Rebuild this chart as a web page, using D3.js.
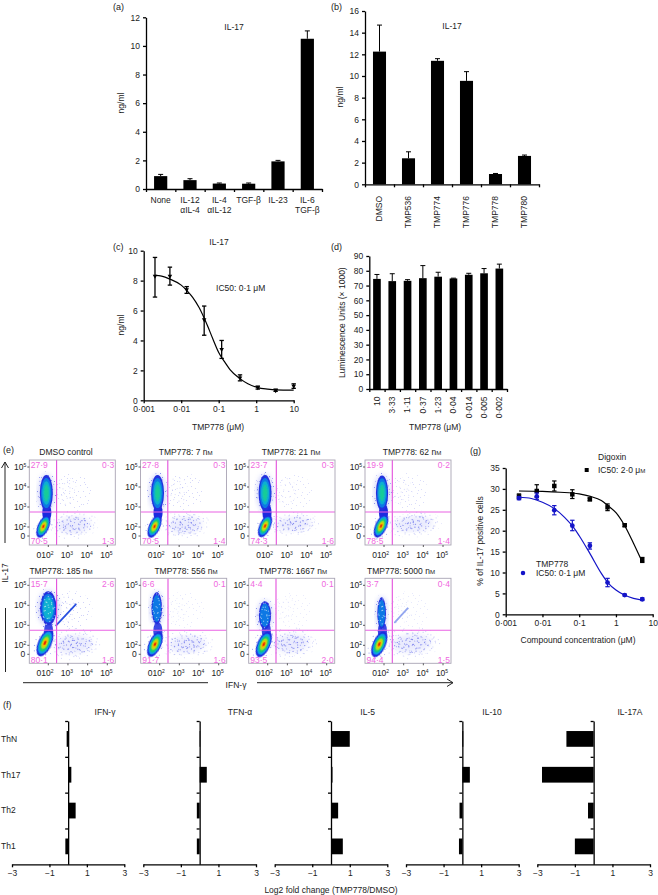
<!DOCTYPE html>
<html><head><meta charset="utf-8">
<script src="https://cdn.jsdelivr.net/npm/d3@7/dist/d3.min.js"></script>
<style>html,body{margin:0;padding:0;background:#fff}svg{display:block}text{font-family:"Liberation Sans",Arial,sans-serif;fill:#222}</style>
</head><body><svg id="c" width="658" height="895"></svg>
<script>
// (a)
const aCategories=[["None"],["IL-12","αIL-4"],["IL-4","αIL-12"],["TGF-β"],["IL-23"],["IL-6","TGF-β"]];
const aValues=[0.9,0.62,0.38,0.37,1.93,10.5];
const aTops=[1.02,0.72,0.42,0.42,2.0,11.05];
const aTicks=[0,2,4,6,8,10,12];
// (b)
const bCategories=["DMSO","TMP536","TMP774","TMP776","TMP778","TMP780"];
const bValues=[12.25,2.4,11.4,9.55,0.95,2.62];
const bTops=[14.7,3.0,11.6,10.4,1.0,2.7];
const bTicks=[0,2,4,6,8,10,12,14,16];
// (c)
const cDoses=[0.002,0.005,0.014,0.041,0.12,0.37,1.1,3.3,10];
const cValues=[8.3,8.3,7.4,5.4,3.4,1.5,0.85,0.65,0.95];
const cLow=[6.9,7.7,7.15,4.35,2.8,1.3,0.75,0.6,0.8];
const cHigh=[9.55,8.9,7.6,6.3,4.0,1.7,0.95,0.75,1.1];
const cCurveX=[0.002,0.003,0.005,0.01,0.014,0.02,0.03,0.05,0.07,0.1,0.15,0.2,0.37,0.6,1.1,2,3.3,10];
const cCurveY=[8.35,8.3,8.1,7.7,7.35,6.9,6.2,5.0,4.1,3.2,2.5,2.05,1.45,1.1,0.85,0.75,0.7,0.68];
const cTicks=[0,2,4,6,8,10];
const logTicks=[0.001,0.01,0.1,1,10];
const logLabels=["0·001","0·01","0·1","1","10"];
// (d)
const dCategories=["10","3·33","1·11","0·37","1·23","0·04","0·014","0·005","0·002"];
const dValues=[74.5,73,73.2,75,76,74.8,77.3,78.3,81.5];
const dTops=[77.5,78,74,83.5,79,75,78.3,81.5,84.5];
const dTicks=[0,10,20,30,40,50,60,70,80,90];
// (e)
const flowTitles=["DMSO control","TMP778: 7 n|M","TMP778: 21 n|M","TMP778: 62 n|M","TMP778: 185 n|M","TMP778: 556 n|M","TMP778: 1667 n|M","TMP778: 5000 n|M"];
const flowTL=["27·9","27·8","23·7","19·9","15·7","6·6","4·4","3·7"];
const flowTR=["0·3","0·3","0·3","0·2","2·6","0·1","0·1","0·4"];
const flowBL=["70·5","70·5","74·3","78·5","80·1","91·7","93·5","94·4"];
const flowBR=["1·3","1·4","1·6","1·4","1·6","1·6","2·0","1·5"];
const upperCx=[1.9,1.9,1.85,1.9,2.0,1.85,1.86,1.88];
const upperCy=[3.7,3.7,3.7,3.7,3.85,3.85,3.5,3.6];
const upperRx=[0.33,0.33,0.33,0.31,0.42,0.27,0.31,0.22];
const upperRy=[0.9,0.9,0.9,0.88,0.85,0.8,0.7,0.8];
const upperHeat=[5,5,5,5,3,2,2,2];
const lowerCx=[1.75,1.75,1.85,1.85,1.83,1.76,1.8,1.76];
const lowerCy=[2.03,2.03,2.05,2.05,2.12,2.05,2.05,2.05];
const lowerSize=[1,1,1,1.03,1.2,1.12,1.15,1.15];
const cloudCx=[3.3,3.3,3.3,3.5,3.3,3.4,3.2,3.4];
const cloudCy=[2.1,2.1,2.15,2.15,2.05,2.05,2.1,2.1];
const cloudRx=[1.05,1.05,1.1,1.2,1.15,1.15,1.1,1.25];
const cloudRy=[0.55,0.55,0.45,0.5,0.6,0.55,0.6,0.6];
const sparseDensity=[0.8,0.8,0.65,0.7,0.9,0.45,0.4,0.45];
const streakFrom=[null,null,null,null,[2.4,3.0],null,null,[2.55,3.15]];
const streakTo=[null,null,null,null,[3.4,4.05],null,null,[3.2,3.85]];
const streakAlpha=[0,0,0,0,1,0,0,0.5];
const speckleTile=[[2,1],[9,3],[13,0],[21,2],[27,5],[34,1],[39,4],[5,6],[11,8],[18,6],[24,9],[31,7],[37,10],[1,10],[7,12],[15,11],[20,13],[28,12],[35,14],[3,15],[10,16],[17,17],[25,15],[32,18],[39,16],[6,19],[13,21],[22,19],[29,22],[36,20],[1,23],[9,24],[16,25],[24,24],[33,26],[40,23],[4,27],[12,29],[19,28],[27,30],[37,29],[7,31],[15,33],[23,32],[31,34],[39,33],[2,34],[10,36],[20,35],[28,36],[35,36],[3,3],[16,3],[26,1],[8,9],[22,11],[33,11],[14,14],[29,16],[5,22],[19,22],[38,25],[11,32],[26,34]];
// (f)
const fRows=["ThN","Th17","Th2","Th1"];
const fTitles=["IFN-γ","TFN-α","IL-5","IL-10","IL-17A"];
const fValues=[[-0.08,0.17,0.4,-0.15],[0.03,0.38,-0.15,-0.15],[1.0,0.08,0.38,0.63],[0.05,0.4,-0.15,-0.18],[-1.45,-2.75,-0.3,-1.0]];
const fTicks=[-3,-1,1,3];
// (g)
const gDoses=[0.0023,0.007,0.021,0.065,0.195,0.59,1.73,5.2];
const digValues=[28.2,29.5,30.7,28.7,27.5,25.6,21.3,13];
const digLow=[27.6,28,29.5,27.7,27.2,24.8,21,12.4];
const digHigh=[28.8,31,31.9,29.8,27.8,26.4,21.6,13.6];
const tmpValues=[27.8,28.2,24.9,21.2,16.4,7.6,4.6,3.6];
const tmpLow=[27.4,27.5,23.8,20,15.6,6.6,4.4,3.3];
const tmpHigh=[28.2,29,26,22.5,17.1,8.6,4.8,3.9];
const digCurveX=[0.0023,0.01,0.03,0.1,0.2,0.4,0.6,1,1.7,3,5.2];
const digCurveY=[29.5,29.4,29.2,28.8,28.2,27.2,26,24.3,21.3,17,12.5];
const tmpCurveX=[0.0023,0.005,0.01,0.02,0.04,0.07,0.1,0.2,0.4,0.6,1,1.7,3,5.2];
const tmpCurveY=[28,27.7,26.8,25.4,23.2,20.8,18.8,14.4,9.8,7.6,5.8,4.6,3.8,3.4];
const gTicks=[0,5,10,15,20,25,30,35];

const svg=d3.select("#c");
const FS=8.5;
function label(t,x,y,o={}){
  const e=(o.g||svg).append("text").attr("x",x).attr("y",y).attr("dy","0.34em")
    .attr("font-size",o.fs||FS).attr("text-anchor",o.a||"middle").text(t);
  if(o.rot!=null)e.attr("transform",`rotate(${o.rot} ${x} ${y})`);
  if(o.fill)e.style("fill",o.fill);
  return e;
}
function capLabel(t,x,y,o={}){
  const [head,tail]=t.split("|");
  const e=label(head,x,y,o);
  if(tail!=null)e.append("tspan").attr("font-size",(o.fs||FS)*0.72).text(tail);
  return e;
}
function styleAxis(g,w=1.3){
  g.selectAll(".domain").attr("stroke","#000").attr("stroke-width",w);
  g.selectAll(".tick line").attr("stroke","#000").attr("stroke-width",w);
  g.selectAll(".tick text").attr("font-size",FS).style("fill","#222").attr("font-family",'"Liberation Sans",Arial,sans-serif');
}
function yAxis(scale,x,ticks,fmt){
  const g=svg.append("g").attr("transform",`translate(${x},0)`)
    .call(d3.axisLeft(scale).tickValues(ticks).tickSize(3).tickSizeOuter(0).tickFormat(fmt||(d=>d)));
  styleAxis(g);return g;
}
function barPanel(opt){
  const {cats,vals,tops,ticks,x0,x1,y0,y1,max,barW}=opt;
  const y=d3.scaleLinear().domain([0,max]).range([y0,y1]);
  const band=d3.scaleBand().domain(d3.range(cats.length)).range([x0,x1]).paddingInner(1-barW).paddingOuter((1-barW)/2);
  const pos=d3.scaleLinear().domain([0,cats.length]).range([x0,x1]);
  const g=svg.append("g");
  g.selectAll("line.e").data(vals).join("line").attr("x1",(d,i)=>band(i)+band.bandwidth()/2).attr("x2",(d,i)=>band(i)+band.bandwidth()/2)
    .attr("y1",d=>y(d)).attr("y2",(d,i)=>y(tops[i])).attr("stroke","#000").attr("stroke-width",1);
  g.selectAll("line.c").data(tops).join("line").attr("x1",(d,i)=>band(i)+band.bandwidth()/2-2.5).attr("x2",(d,i)=>band(i)+band.bandwidth()/2+2.5)
    .attr("y1",d=>y(d)).attr("y2",d=>y(d)).attr("stroke","#000").attr("stroke-width",1);
  g.selectAll("rect").data(vals).join("rect").attr("x",(d,i)=>band(i)).attr("width",band.bandwidth())
    .attr("y",d=>y(d)).attr("height",d=>y0-y(d)).attr("fill","#000");
  yAxis(y,x0,ticks);
  const xg=svg.append("g").attr("transform",`translate(0,${y0})`)
    .call(d3.axisBottom(pos).tickValues(d3.range(cats.length+1)).tickSize(3).tickSizeOuter(0).tickFormat(""));
  styleAxis(xg);
  return {band,y};
}
// ---------- (a)
label("(a)",113,6.5,{a:"start",fs:9});
let p=barPanel({cats:aCategories,vals:aValues,tops:aTops,ticks:aTicks,x0:146,x1:322,y0:189,y1:17.3,max:12,barW:0.45});
label("IL-17",234,27);
label("ng/ml",121,103,{rot:-90});
aCategories.forEach((c,i)=>c.forEach((t,j)=>label(t,p.band(i)+p.band.bandwidth()/2,200+j*10.5)));
// ---------- (b)
label("(b)",331,7,{a:"start",fs:9});
p=barPanel({cats:bCategories,vals:bValues,tops:bTops,ticks:bTicks,x0:365,x1:539,y0:184.3,y1:11,max:16,barW:0.45});
label("IL-17",452,26);
label("ng/ml",340,97,{rot:-90});
bCategories.forEach((c,i)=>label(c,p.band(i)+p.band.bandwidth()/2,196,{rot:-90,a:"end"}));
// ---------- (c)
label("(c)",113,247,{a:"start",fs:9});
{
  const x=d3.scaleLog().domain([0.001,10]).range([143.7,293.7]);
  const y=d3.scaleLinear().domain([0,10]).range([400.3,250.7]);
  svg.append("path").datum(cCurveX.map((d,i)=>[d,cCurveY[i]])).attr("fill","none").attr("stroke","#000").attr("stroke-width",1.2)
    .attr("d",d3.line().x(d=>x(d[0])).y(d=>y(d[1])).curve(d3.curveMonotoneX));
  const g=svg.append("g");
  cDoses.forEach((d,i)=>{
    g.append("line").attr("x1",x(d)).attr("x2",x(d)).attr("y1",y(cLow[i])).attr("y2",y(cHigh[i])).attr("stroke","#000").attr("stroke-width",1.3);
    [cLow[i],cHigh[i]].forEach(v=>g.append("line").attr("x1",x(d)-2.2).attr("x2",x(d)+2.2).attr("y1",y(v)).attr("y2",y(v)).attr("stroke","#000").attr("stroke-width",1.3));
    g.append("path").attr("d",d3.symbol(d3.symbolTriangle,9)()).attr("transform",`translate(${x(d)},${y(cValues[i])}) rotate(180)`).attr("fill","#000");
  });
  yAxis(y,143.7,cTicks);
  const xg=svg.append("g").attr("transform","translate(0,400.3)")
    .call(d3.axisBottom(x).tickValues(logTicks).tickSize(3).tickSizeOuter(0).tickFormat((d,i)=>logLabels[i]));
  styleAxis(xg);
  label("IC50: 0·1 μM",240.7,287.7);
  label("IL-17",219,241.7);
  label("TMP778 (μM)",218,426.7);
  label("ng/ml",121,325,{rot:-90});
}
// ---------- (d)
label("(d)",331,246.7,{a:"start",fs:9});
p=barPanel({cats:dCategories,vals:dValues,tops:dTops,ticks:dTicks,x0:369.3,x1:507,y0:389,y1:256,max:90,barW:0.5});
label("Luminescence Units (× 1000)",342,322.7,{rot:-90});
dCategories.forEach((c,i)=>label(c,p.band(i)+p.band.bandwidth()/2,396.5,{rot:-90,a:"end"}));
label("TMP778 (μM)",435,426.7);
// ---------- (e)
const defs=svg.append("defs");
function speckPattern(id,color,w,tf){
  const pat=defs.append("pattern").attr("id",id).attr("patternUnits","userSpaceOnUse").attr("width",41).attr("height",37);
  if(tf)pat.attr("patternTransform",tf);
  pat.selectAll("rect").data(speckleTile).join("rect").attr("x",d=>d[0]).attr("y",d=>d[1]).attr("width",w).attr("height",w).attr("fill",color);
}
speckPattern("speck","#5c64e8",0.9);
speckPattern("speck2","#6a70ec",0.9,"rotate(37) translate(5 11)");
speckPattern("speck3","#7a80f0",0.9,"rotate(71) translate(13 4)");
speckPattern("speckW","#ffffff",0.9,"rotate(53) translate(3 8)");
speckPattern("speckW2","#ffffff",0.9,"rotate(19) translate(9 2)");
defs.append("filter").attr("id","soft").append("feGaussianBlur").attr("stdDeviation",0.7);
defs.append("filter").attr("id","soft2").append("feGaussianBlur").attr("stdDeviation",2.6);
const lowerColors=["#1f2ae0","#0a9fe6","#12c97c","#a4e022","#f2c200","#e62200"];
const lowerLevels=[1,0.82,0.64,0.46,0.3,0.16];
const upperColors=["#2430de","#0a78e4","#10b0d0","#14c4a8","#18cc98"];
const upperLevels=[1,0.82,0.62,0.42,0.26];
const flowLefts=[29.3,140.5,249,365,29.3,140.7,248.7,365];
const flowTops=[460,460,460,460,578.3,578.3,578.3,578.3];
const titleX=[66,185.7,291,412,61,186,293,401];
const pink="#f068e0";
label("(e)",3,450,{a:"start",fs:9});
flowTitles.forEach((t,i)=>{
  const L=flowLefts[i],T=flowTops[i],W=86,H=85;
  const x=d3.scaleLinear().domain([2,5]).range([L+19,L+78]);
  const y=d3.scaleLinear().domain([2,5]).range([T+67,T+7]);
  const g=svg.append("g");
  const cid="cp"+i;
  defs.append("clipPath").attr("id",cid).append("rect").attr("x",L).attr("y",T).attr("width",W).attr("height",H);
  const inner=g.append("g").attr("clip-path",`url(#${cid})`);
  const ell=(cx,cy,rx,ry,fill,op,rot,filter)=>{
    const e=inner.append("ellipse").attr("cx",x(cx)).attr("cy",y(cy)).attr("rx",rx).attr("ry",ry).attr("fill",fill).attr("opacity",op);
    if(rot)e.attr("transform",`rotate(${rot} ${x(cx)} ${y(cy)})`);
    if(filter)e.attr("filter",`url(#${filter})`);
    return e;
  };
  const pxX=d=>d*(x(3)-x(2)),pxY=d=>d*(y(2)-y(3));
  // lower right cloud
  const crx=pxX(cloudRx[i]),cry=pxY(cloudRy[i]),ccx=cloudCx[i],ccy=cloudCy[i];
  ell(ccx,ccy,crx*0.8,cry*0.75,"#c4c8fa",0.35,-4,"soft2");
  ell(ccx,ccy,crx*1.2,cry*1.35,"url(#speck)",0.35,-4);
  ell(ccx,ccy,crx*1.05,cry*1.1,"url(#speck2)",0.5,-4);
  ell(ccx,ccy,crx*0.85,cry*0.85,"url(#speck)",0.7,-4);
  ell(ccx,ccy,crx*0.8,cry*0.8,"url(#speck3)",0.8,-4);
  ell(ccx,ccy,crx*0.55,cry*0.55,"url(#speck2)",0.9,-4);
  // upper right sparse scatter
  ell(3.25,3.75,pxX(1.0),pxY(0.95),"url(#speck)",sparseDensity[i]*0.4,0);
  ell(2.9,3.8,pxX(0.55),pxY(0.7),"url(#speck2)",sparseDensity[i]*0.4,0);
  // halos
  ell(upperCx[i],upperCy[i],pxX(upperRx[i])*1.6,pxY(upperRy[i])*1.2,"url(#speck)",0.9,0);
  ell(upperCx[i],upperCy[i],pxX(upperRx[i])*1.4,pxY(upperRy[i])*1.12,"url(#speck2)",0.9,0);
  ell(upperCx[i],upperCy[i],pxX(upperRx[i])*1.3,pxY(upperRy[i])*1.05,"#aab0f6",0.5,0,"soft2");
  ell(lowerCx[i],lowerCy[i],9*lowerSize[i],15*lowerSize[i],"url(#speck)",0.8,24);
  // streak
  if(streakFrom[i]){
    inner.append("line").attr("x1",x(streakFrom[i][0])).attr("y1",y(streakFrom[i][1])).attr("x2",x(streakTo[i][0])).attr("y2",y(streakTo[i][1]))
      .attr("stroke","#2a50e0").attr("stroke-width",1.8).attr("stroke-linecap","round").attr("opacity",streakAlpha[i]).attr("filter","url(#soft)");
  }
  // neck between populations
  ell((upperCx[i]+lowerCx[i])/2+0.1,2.72,4.6,9,"#1f2ae0",upperHeat[i]>3?1:0.85,0,"soft");
  // upper population
  upperLevels.slice(0,upperHeat[i]).forEach((s,k)=>{
    ell(upperCx[i],upperCy[i],pxX(upperRx[i])*s,pxY(upperRy[i])*(k?0.1+0.9*s:1),upperColors[k],1,0,"soft");
  });
  if(upperHeat[i]<5){
    ell(upperCx[i],upperCy[i],pxX(upperRx[i])*1.05,pxY(upperRy[i])*1.02,"url(#speckW)",0.8,0);
    ell(upperCx[i],upperCy[i],pxX(upperRx[i])*1.05,pxY(upperRy[i])*1.02,"url(#speckW2)",0.8,0);
  }
  // lower population
  const zs=lowerSize[i];
  lowerLevels.forEach((s,k)=>{
    ell(lowerCx[i],lowerCy[i],5.6*zs*s,12*zs*s,lowerColors[k],1,24,"soft");
  });
  // gates
  const gx=L+27.3,gy=T+52;
  inner.append("line").attr("x1",gx).attr("x2",gx).attr("y1",T).attr("y2",T+H).attr("stroke","#e34fdc").attr("stroke-width",1.1);
  inner.append("line").attr("x1",L).attr("x2",L+W).attr("y1",gy).attr("y2",gy).attr("stroke","#ea62e4").attr("stroke-width",1.1);
  // frame
  g.append("rect").attr("x",L).attr("y",T).attr("width",W).attr("height",H).attr("fill","none").attr("stroke","#a9a4b4").attr("stroke-width",0.9);
  // decade ticks & labels
  [2,3,4,5].forEach(d=>{
    const t=label("10",L-3,y(d),{a:"end",g:g});
    t.append("tspan").attr("font-size",5).attr("dy",-3).text(d);
    g.append("line").attr("x1",L-2).attr("x2",L).attr("y1",y(d)).attr("y2",y(d)).attr("stroke","#333").attr("stroke-width",0.8);
    const tx=label("10",x(d)-1,T+H+10,{g:g});
    tx.append("tspan").attr("font-size",5).attr("dy",-3).text(d);
    g.append("line").attr("x1",x(d)).attr("x2",x(d)).attr("y1",T+H).attr("y2",T+H+2).attr("stroke","#333").attr("stroke-width",0.8);
  });
  label("0",L-4,T+76,{a:"end",g:g});
  g.append("line").attr("x1",L-2).attr("x2",L).attr("y1",T+76).attr("y2",T+76).attr("stroke","#333").attr("stroke-width",0.8);
  label("0",L+9.5,T+H+10,{g:g});
  // quadrant labels
  label(flowTL[i],L+1.5,T+5.5,{a:"start",fill:pink,g:g});
  label(flowTR[i],L+W-1,T+5.5,{a:"end",fill:pink,g:g});
  label(flowBL[i],L+1.5,T+H-3.5,{a:"start",fill:pink,g:g});
  label(flowBR[i],L+W-1,T+H-3.5,{a:"end",fill:pink,g:g});
  capLabel(t,titleX[i],i<4?452:571,{g:g});
});
const ln=(x1,y1,x2,y2)=>svg.append("line").attr("x1",x1).attr("y1",y1).attr("x2",x2).attr("y2",y2).attr("stroke","#222").attr("stroke-width",1);
ln(5,462,5,543);ln(1.5,468,5,462);ln(8.5,468,5,462);
ln(5.5,608,5.5,672);
label("IL-17",5,573,{rot:-90});
ln(23,682.7,208,682.7);
label("IFN-γ",236,685);
ln(257,682.7,453,682.7);ln(447,679,453,682.7);ln(447,686.5,453,682.7);
// ---------- (f)
label("(f)",3,705,{a:"start",fs:9});
const fLefts=[12,143.3,274.7,406,537.3],fRights=[124.3,256,387.3,518.7,650];
const fTitleX=[105,240,367.7,492,630];
const fy=d3.scaleBand().domain(fRows).range([721,864.3]).paddingInner(0.56).paddingOuter(0.28);
fTitles.forEach((t,i)=>{
  const x=d3.scaleLinear().domain([-3,3]).range([fLefts[i],fRights[i]]);
  label(t,fTitleX[i],712);
  svg.append("g").selectAll("rect").data(fValues[i]).join("rect")
    .attr("x",d=>x(Math.min(0,d))).attr("width",d=>Math.abs(x(d)-x(0)))
    .attr("y",(d,k)=>fy(fRows[k])).attr("height",fy.bandwidth()).attr("fill","#000");
  const edge=d3.scaleLinear().domain([0,4]).range([721,864.3]);
  const yg=svg.append("g").attr("transform",`translate(${x(0)},0)`)
    .call(d3.axisLeft(edge).tickValues([0,1,2,3]).tickSize(3).tickSizeOuter(0).tickFormat(""));
  styleAxis(yg);
  const xg=svg.append("g").attr("transform","translate(0,864.3)")
    .call(d3.axisBottom(x).tickValues(fTicks).tickSize(3).tickSizeOuter(0).tickFormat(d=>d<0?"−"+(-d):d));
  styleAxis(xg);
});
fRows.forEach(r=>label(r,1,fy(r)+fy.bandwidth()/2,{a:"start"}));
label("Log2 fold change (TMP778/DMSO)",331,890);
// ---------- (g)
label("(g)",470,450.7,{a:"start",fs:9});
{
  const x=d3.scaleLog().domain([0.001,10]).range([505.7,652.7]);
  const y=d3.scaleLinear().domain([0,35]).range([614.3,468]);
  const line=d3.line().x(d=>x(d[0])).y(d=>y(d[1])).curve(d3.curveMonotoneX);
  const series=[
    {c:"#000",v:digValues,lo:digLow,hi:digHigh,cx:digCurveX,cy:digCurveY,sym:d3.symbolSquare,size:20},
    {c:"#1414c8",v:tmpValues,lo:tmpLow,hi:tmpHigh,cx:tmpCurveX,cy:tmpCurveY,sym:d3.symbolCircle,size:18}
  ];
  series.forEach(s=>{
    svg.append("path").datum(s.cx.map((d,i)=>[d,s.cy[i]])).attr("fill","none").attr("stroke",s.c).attr("stroke-width",1.2).attr("d",line);
    gDoses.forEach((d,i)=>{
      svg.append("line").attr("x1",x(d)).attr("x2",x(d)).attr("y1",y(s.lo[i])).attr("y2",y(s.hi[i])).attr("stroke",s.c).attr("stroke-width",1.2);
      [s.lo[i],s.hi[i]].forEach(v=>svg.append("line").attr("x1",x(d)-2.2).attr("x2",x(d)+2.2).attr("y1",y(v)).attr("y2",y(v)).attr("stroke",s.c).attr("stroke-width",1.2));
      svg.append("path").attr("d",d3.symbol(s.sym,s.size)()).attr("transform",`translate(${x(d)},${y(s.v[i])})`).attr("fill",s.c);
    });
  });
  yAxis(y,505.7,gTicks);
  const xg=svg.append("g").attr("transform","translate(0,614.3)")
    .call(d3.axisBottom(x).tickValues(logTicks).tickSize(3).tickSizeOuter(0).tickFormat((d,i)=>logLabels[i]));
  styleAxis(xg);
  label("Digoxin",598,457,{a:"start"});
  capLabel("IC50: 2·0 μ|M",598,470,{a:"start"});
  svg.append("path").attr("d",d3.symbol(d3.symbolSquare,16)()).attr("transform","translate(586.7,470)").attr("fill","#000");
  label("TMP778",536,564,{a:"start"});
  label("IC50: 0·1 μM",536,573.5,{a:"start"});
  svg.append("path").attr("d",d3.symbol(d3.symbolCircle,16)()).attr("transform","translate(523,573)").attr("fill","#1414c8");
  label("% of IL-17 positive cells",480,541,{rot:-90});
  label("Compound concentration (μM)",578,640);
}
</script></body></html>
